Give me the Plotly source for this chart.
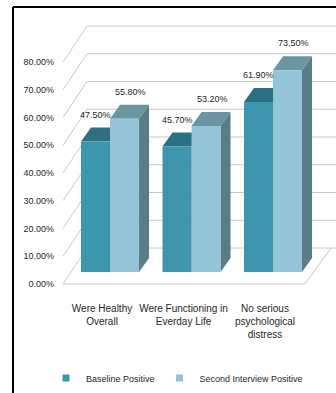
import plotly.graph_objects as go

categories = ["Were Healthy<br>Overall", "Were Functioning in<br>Everday Life", "No serious<br>psychological<br>distress"]
series_names = ["Baseline Positive", "Second Interview Positive"]
baseline = [47.5, 45.7, 61.9]
second = [55.8, 53.2, 73.5]
y_ticks = [0, 10, 20, 30, 40, 50, 60, 70, 80]

front_colors = ["#3D95AE", "#93C4D7"]
top_colors = ["#2E7083", "#6C95A4"]
side_colors = ["#2B6677", "#5A7C87"]
FONT = "Liberation Sans, Arial, sans-serif"
TXT = "#262626"

# geometry (pixels -> axis units)
L_M, T_M, PW, PH = 63, 10, 273, 280
XR = [-0.577, 2.773]
px_x = PW / (XR[1] - XR[0])
YR = [-6.557, 95.45]
px_y = PH / (YR[1] - YR[0])
Y2R = [-2.162, 98.74]
px_y2 = PH / (Y2R[1] - Y2R[0])
bargap = 0.288
w = (1 - bargap) / 2
dx = 10 / px_x
dy = 14 / px_y
wall_dx = 24 / px_x
wall_dy = 36 / px_y2

xs = list(range(len(categories)))
fig = go.Figure()
series = [baseline, second]
for k, vals in enumerate(series):
    fig.add_trace(go.Bar(x=xs, y=vals, name=series_names[k], marker_color=front_colors[k],
                         marker_line_width=0, showlegend=False, offsetgroup=str(k)))
for k in range(2):
    fig.add_trace(go.Scatter(x=[None], y=[None], mode="markers", name=series_names[k],
                             marker=dict(symbol="square", size=7, color=front_colors[k]),
                             yaxis="y2"))

shapes = []
grid = dict(color="#C8C8C8", width=1)
xl = XR[0]
for v in y_ticks:
    shapes.append(dict(type="line", xref="x", yref="y2", x0=xl, y0=v, x1=xl + wall_dx, y1=v + wall_dy,
                       line=grid, layer="below"))
    shapes.append(dict(type="line", xref="x", yref="y2", x0=xl + wall_dx, y0=v + wall_dy, x1=XR[1], y1=v + wall_dy,
                       line=grid, layer="below"))
fr = xl + (305 - L_M) / px_x
br = xl + (331 - L_M) / px_x
shapes.append(dict(type="path", xref="x", yref="y2",
                   path=f"M{xl},0 L{fr},0 L{br},{wall_dy}", line=grid, layer="below"))

for k, vals in enumerate(series):
    for i, v in enumerate(vals):
        left = i - w + k * w
        right = left + w
        shapes.append(dict(type="path", xref="x", yref="y", layer="below",
                           path=f"M{left},{v} L{left+dx},{v+dy} L{right+dx},{v+dy} L{right},{v} Z",
                           fillcolor=top_colors[k], line=dict(width=0)))
        shapes.append(dict(type="path", xref="x", yref="y", layer="below",
                           path=f"M{right},0 L{right+dx},{dy} L{right+dx},{v+dy} L{right},{v} Z",
                           fillcolor=side_colors[k], line=dict(width=0)))

# frame border
def px2paper_x(p):
    return (p - L_M) / PW
def px2paper_y(p):
    return (T_M + PH - p) / PH
border = dict(color="black", width=2)
shapes.append(dict(type="line", xref="paper", yref="paper", x0=px2paper_x(13), y0=px2paper_y(7),
                   x1=px2paper_x(13), y1=px2paper_y(393), line=border))
shapes.append(dict(type="line", xref="paper", yref="paper", x0=px2paper_x(13), y0=px2paper_y(7),
                   x1=px2paper_x(336), y1=px2paper_y(7), line=border))

annotations = []
label_xshift = [0, 6]
for k, vals in enumerate(series):
    for i, v in enumerate(vals):
        cx = i - w + k * w + w / 2
        annotations.append(dict(x=cx, y=v, xref="x", yref="y", text=f"{v:.2f}%", showarrow=False,
                                yshift=27, xshift=label_xshift[k], font=dict(family=FONT, size=9, color=TXT)))

fig.update_layout(
    width=336, height=393,
    margin=dict(l=L_M, r=336 - L_M - PW, t=T_M, b=393 - T_M - PH),
    paper_bgcolor="white", plot_bgcolor="white",
    barmode="group", bargap=bargap, bargroupgap=0,
    font=dict(family=FONT, size=9, color=TXT),
    xaxis=dict(range=XR, tickvals=xs, ticktext=categories, showgrid=False, zeroline=False,
               showline=False, ticks="", tickangle=0, ticklabelshift=-8, ticklabelstandoff=11,
               tickfont=dict(family=FONT, size=10, color=TXT)),
    yaxis=dict(range=YR, showgrid=False, zeroline=False, showline=False, showticklabels=False, ticks=""),
    yaxis2=dict(range=Y2R, overlaying="y", side="left", tickvals=y_ticks,
                ticktext=[f"{v:.2f}%" for v in y_ticks],
                showgrid=False, zeroline=False, showline=False, ticks="", ticklabelstandoff=8,
                tickfont=dict(family=FONT, size=9, color=TXT)),
    legend=dict(orientation="h", x=px2paper_x(177), xanchor="center", y=px2paper_y(378), yanchor="middle",
                font=dict(family=FONT, size=9, color=TXT), bgcolor="rgba(0,0,0,0)",
                itemwidth=30, tracegroupgap=0),
    shapes=shapes, annotations=annotations,
)

fig.write_html("out.html")
